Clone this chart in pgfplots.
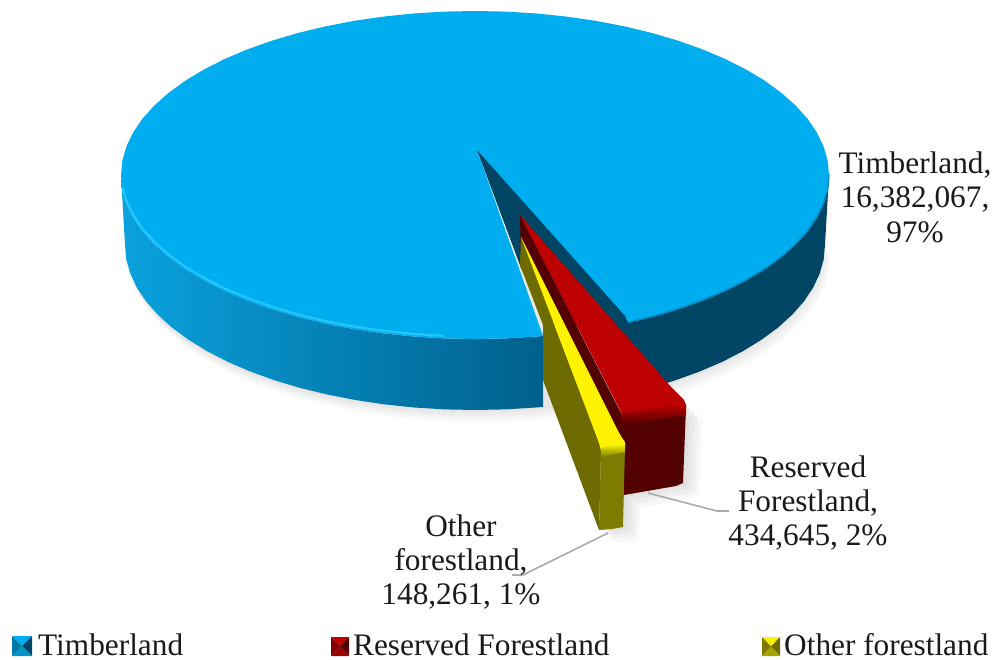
\documentclass[border=0pt]{standalone}
\usepackage{fontspec}
\setmainfont{Liberation Serif}
\usepackage{pgfplots}
\usepackage{pgfplotstable}
\pgfplotsset{compat=1.18}

\definecolor{blueTop}{HTML}{00ADEF}
\definecolor{blueRim}{HTML}{24C6FF}
\definecolor{blueDark}{HTML}{004563}
\definecolor{wallA}{HTML}{0AA2DE}
\definecolor{wallB}{HTML}{0282B4}
\definecolor{wallC}{HTML}{00608C}
\definecolor{redTop}{HTML}{BD0000}
\definecolor{redDark}{HTML}{530000}
\definecolor{yelSide}{HTML}{6E6C00}
\definecolor{yelFront}{HTML}{7D7C00}
\definecolor{labelInk}{HTML}{1A1A1A}
\definecolor{leader}{HTML}{ABABAB}

\tikzset{
  lbl/.style={anchor=base, font=\fontsize{31.3}{34}\selectfont, text=labelInk, inner sep=0pt},
  leg/.style={anchor=base west, font=\fontsize{31.3}{34}\selectfont, text=labelInk, inner sep=0pt},
}

% top face, running round from the cut at the right to the cut at the left
\pgfplotstableread{
x y
624.6 323.6
652 317
678.1 309.3
702.6 300.6
725.3 291
746.2 280.4
765 269.1
781.6 257
795.8 244.3
807.7 231.1
816.9 217.4
823.6 203.5
827.7 189.3
829 175
827.7 160.7
823.6 146.5
816.9 132.6
807.7 118.9
795.8 105.7
781.6 93
765 80.9
746.2 69.6
725.3 59
702.6 49.4
678.1 40.7
652 33
624.6 26.4
596.1 20.9
566.6 16.6
536.5 13.5
505.9 11.6
475 11
444.1 11.6
413.5 13.5
383.4 16.6
353.9 20.9
325.4 26.4
298 33
271.9 40.7
247.4 49.4
224.7 59
203.8 69.6
185 80.9
168.4 93
154.2 105.7
142.3 118.9
133.1 132.6
126.4 146.5
122.3 160.7
121 175
122.3 189.3
126.4 203.5
133.1 217.4
142.3 231.1
154.2 244.3
168.4 257
185 269.1
203.8 280.4
224.7 291
247.4 300.6
271.9 309.3
298 317
325.4 323.6
353.9 329.1
383.4 333.4
413.5 336.5
444.1 338.4
475 339
505.9 338.4
536.5 336.5
543 336
477 150
}\topface

% outline of the left side wall
\pgfplotstableread{
x y
121 175
122.3 189.3
126.4 203.5
133.1 217.4
142.3 231.1
154.2 244.3
168.4 257
185 269.1
203.8 280.4
224.7 291
247.4 300.6
271.9 309.3
298 317
325.4 323.6
353.9 329.1
383.4 333.4
413.5 336.5
444.1 338.4
475 339
505.9 338.4
536.5 336.5
543 336
543 407
535.8 407.5
505.5 409.4
475 410
444.5 409.4
414.2 407.5
384.4 404.4
355.3 400
327.1 394.5
300 387.9
274.2 380.2
250 371.4
227.5 361.7
206.9 351.1
188.3 339.6
171.9 327.5
157.8 314.7
146.1 301.4
136.9 287.7
130.3 273.6
126.3 259.4
125 245
}\leftwall

% outline of the right side wall
\pgfplotstableread{
x y
829 175
827.7 189.3
823.6 203.5
816.9 217.4
807.7 231.1
795.8 244.3
781.6 257
765 269.1
746.2 280.4
725.3 291
702.6 300.6
678.1 309.3
652 317
624.6 323.6
622.9 394.5
650 387.9
675.8 380.2
700 371.4
722.5 361.7
743.1 351.1
761.7 339.6
778.1 327.5
792.2 314.7
803.9 301.4
813.1 287.7
819.7 273.6
823.7 259.4
825 245
}\rightwall

% front edge of the top face, left part and right part
\pgfplotstableread{
x y
122.3 189.3
126.4 203.5
133.1 217.4
142.3 231.1
154.2 244.3
168.4 257
185 269.1
203.8 280.4
224.7 291
247.4 300.6
271.9 309.3
298 317
325.4 323.6
353.9 329.1
383.4 333.4
413.5 336.5
444.1 338.4
}\rimleft
\pgfplotstableread{
x y
829 175
827.7 189.3
823.6 203.5
816.9 217.4
807.7 231.1
795.8 244.3
781.6 257
765 269.1
746.2 280.4
725.3 291
702.6 300.6
678.1 309.3
652 317
627 323
}\rimright

% silhouette used for the soft shadow under the pie
\pgfplotstableread{
x y
125 245
126.3 259.4
130.3 273.6
136.9 287.7
146.1 301.4
157.8 314.7
171.9 327.5
188.3 339.6
206.9 351.1
227.5 361.7
250 371.4
274.2 380.2
300 387.9
327.1 394.5
355.3 400
384.4 404.4
414.2 407.5
444.5 409.4
475 410
505.5 409.4
535.8 407.5
622.9 394.5
650 387.9
675.8 380.2
700 371.4
722.5 361.7
743.1 351.1
761.7 339.6
778.1 327.5
792.2 314.7
803.9 301.4
813.1 287.7
819.7 273.6
823.7 259.4
825 245
}\pieshadow

\pgfplotstableread{
x y
543 380
599 530
623 527
624 495
683 483
686 405
}\sliceshadow

\begin{document}
\begin{tikzpicture}
\useasboundingbox (0,0) rectangle (996pt,660pt);
\begin{axis}[
    scale only axis,
    width=996pt, height=660pt,
    xmin=0, xmax=996, ymin=0, ymax=660,
    y dir=reverse,
    hide axis,
    clip=false,
    every axis plot/.append style={no markers},
  ]
  % soft shadows
  \addplot[fill=black, fill opacity=0.025, draw=none, yshift=-3pt] table {\pieshadow} -- cycle;
  \addplot[fill=black, fill opacity=0.025, draw=none, yshift=-6pt, xshift=2pt] table {\pieshadow} -- cycle;
  \addplot[fill=black, fill opacity=0.025, draw=none, yshift=-9pt, xshift=4pt] table {\pieshadow} -- cycle;
  \addplot[fill=black, fill opacity=0.025, draw=none, yshift=-12pt, xshift=5pt] table {\pieshadow} -- cycle;
  \addplot[fill=black, fill opacity=0.03, draw=none, yshift=-2pt, xshift=4pt] table {\sliceshadow} -- cycle;
  \addplot[fill=black, fill opacity=0.03, draw=none, yshift=-5pt, xshift=8pt] table {\sliceshadow} -- cycle;
  \addplot[fill=black, fill opacity=0.03, draw=none, yshift=-9pt, xshift=12pt] table {\sliceshadow} -- cycle;
  \addplot[fill=black, fill opacity=0.03, draw=none, yshift=-13pt, xshift=16pt] table {\sliceshadow} -- cycle;

  % pie walls and top
  \addplot[draw=none, left color=wallA, middle color=wallB, right color=wallC] table {\leftwall} -- cycle;
  \addplot[fill=blueDark, draw=none] table {\rightwall} -- cycle;
  \addplot[fill=blueTop, draw=none] table {\topface} -- cycle;
  \addplot[blueRim, line width=2.2pt, yshift=2.5pt] table {\rimleft};
  \addplot[blueTop!70!blueDark, line width=1.5pt, yshift=0.5pt] table {\rimright};

  % inner wall of the cut
  \addplot[fill=blueDark, draw=none] coordinates {(477,150) (625,316) (628,323) (628,345) (560,320) (521,268)} -- cycle;

  % reserved forestland
  \addplot[fill=redDark, draw=none] coordinates {(520,215) (622,415) (624,441) (521,268)} -- cycle;
  \addplot[fill=redDark, draw=none] coordinates {(622,418) (686,408) (683,483) (676,486) (624,495)} -- cycle;
  \addplot[fill=redTop, draw=none] coordinates {(520,215) (672,388) (684,400) (686,405) (686,408) (622,418) (620,410)} -- cycle;
  \addplot[draw=none, top color=redTop, bottom color=redDark] coordinates {(622,413) (686,404) (686,415) (622,425)} -- cycle;

  % other forestland
  \addplot[fill=yelSide, draw=none] coordinates {(521,237) (600,445) (601,452) (599,530) (543,380) (543,325) (520,265)} -- cycle;
  \addplot[fill=yelFront, draw=none] coordinates {(601,450) (625,447) (623,527) (612,529) (599,530)} -- cycle;
  \addplot[fill=yellow, draw=none] coordinates {(521,237) (620,435) (625,442) (625,445) (601,450) (598,440)} -- cycle;
  \addplot[draw=none, top color=yellow, bottom color=yelFront] coordinates {(601,448) (625,443) (625,452) (601,457)} -- cycle;

  % leader lines
  \addplot[leader, line width=1.6pt] coordinates {(648,493) (717,511) (729,511)};
  \addplot[leader, line width=1.6pt] coordinates {(608,533) (523,575) (512,575)};

  % data labels
  \node[lbl] at (axis cs:915,174) {Timberland,};
  \node[lbl] at (axis cs:915,208) {16,382,067,};
  \node[lbl] at (axis cs:915,243) {97\%};
  \node[lbl] at (axis cs:808,477) {Reserved};
  \node[lbl] at (axis cs:808,511) {Forestland,};
  \node[lbl] at (axis cs:808,545) {434,645, 2\%};
  \node[lbl] at (axis cs:461,536) {Other};
  \node[lbl] at (axis cs:461,570) {forestland,};
  \node[lbl] at (axis cs:461,604) {148,261, 1\%};

  % legend keys
  \addplot[fill=blueTop, draw=none] coordinates {(12,636) (32,636) (22,646)} -- cycle;
  \addplot[fill=blueDark, draw=none] coordinates {(32,636) (32,656) (22,646)} -- cycle;
  \addplot[fill=blueTop!85!black, draw=none] coordinates {(12,656) (32,656) (22,646)} -- cycle;
  \addplot[fill=blueTop!70!black, draw=none] coordinates {(12,636) (12,656) (22,646)} -- cycle;

  \addplot[fill=redTop, draw=none] coordinates {(331,637) (349,637) (340,646.5)} -- cycle;
  \addplot[fill=redDark, draw=none] coordinates {(349,637) (349,656) (340,646.5)} -- cycle;
  \addplot[fill=redTop!85!black, draw=none] coordinates {(331,656) (349,656) (340,646.5)} -- cycle;
  \addplot[fill=redTop!70!black, draw=none] coordinates {(331,637) (331,656) (340,646.5)} -- cycle;

  \addplot[fill=yellow, draw=none] coordinates {(762,637) (780,637) (771,646.5)} -- cycle;
  \addplot[fill=yelSide, draw=none] coordinates {(780,637) (780,656) (771,646.5)} -- cycle;
  \addplot[fill=yelFront!70!yellow, draw=none] coordinates {(762,656) (780,656) (771,646.5)} -- cycle;
  \addplot[fill=yelFront, draw=none] coordinates {(762,637) (762,656) (771,646.5)} -- cycle;

  % legend text
  \node[leg] at (axis cs:38,655) {Timberland};
  \node[leg] at (axis cs:353,655) {Reserved Forestland};
  \node[leg] at (axis cs:784,655) {Other forestland};
\end{axis}
\end{tikzpicture}
\end{document}
